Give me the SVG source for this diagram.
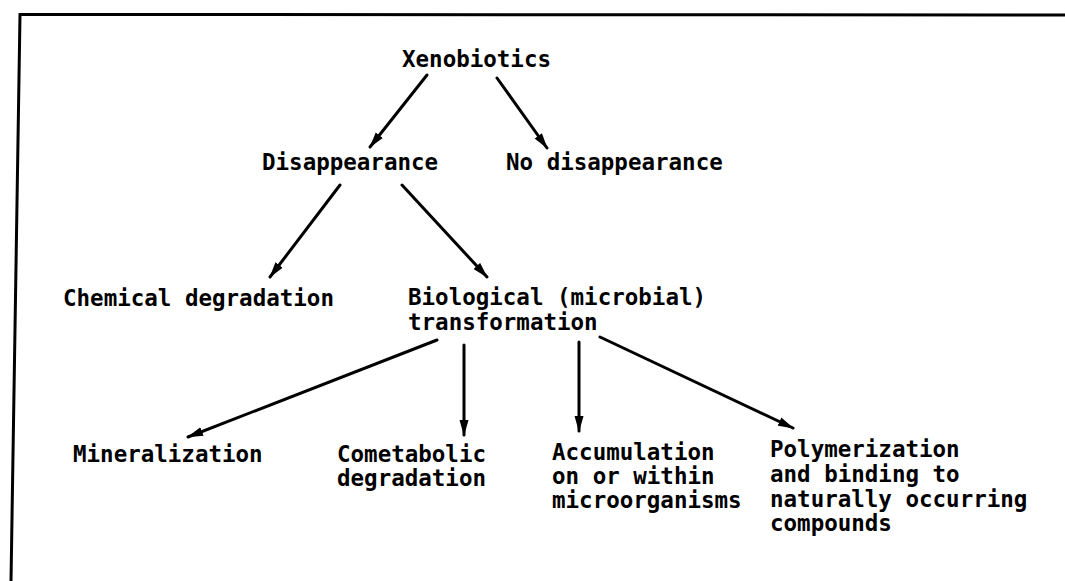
<svg xmlns="http://www.w3.org/2000/svg" width="1065" height="581" viewBox="0 0 1065 581">
  <style>
    .t { font-family: "DejaVu Sans Mono", "Liberation Mono", monospace; font-weight: bold; font-size: 22.5px; fill: #000; }
    .c { stroke: #000; stroke-width: 3; fill: none; stroke-linecap: round; }
    .frame { stroke: #000; stroke-width: 3; fill: none; }
  </style>
  <defs>
    <marker id="arrow" viewBox="0 0 16 10" refX="15" refY="5" markerWidth="16" markerHeight="10" markerUnits="userSpaceOnUse" orient="auto">
      <path d="M0,0.5 L16,5 L0,9.5 Z" fill="#000"/>
    </marker>
  </defs>
  <rect width="1065" height="581" fill="#fff"/>

  <!-- page frame: top rule and left rule -->
  <path class="frame" d="M1065,15 L20,14.5 L11,581"/>

  <g id="connectors">
    <line class="c" x1="427" y1="75" x2="370" y2="147" marker-end="url(#arrow)"/>
    <line class="c" x1="497" y1="78" x2="547" y2="148" marker-end="url(#arrow)"/>
    <line class="c" x1="340" y1="185" x2="270" y2="277" marker-end="url(#arrow)"/>
    <line class="c" x1="402" y1="185" x2="487" y2="277" marker-end="url(#arrow)"/>
    <line class="c" x1="437" y1="340" x2="188" y2="437" marker-end="url(#arrow)"/>
    <line class="c" x1="464" y1="345" x2="464" y2="435" marker-end="url(#arrow)"/>
    <line class="c" x1="579" y1="342" x2="579" y2="431" marker-end="url(#arrow)"/>
    <line class="c" x1="600" y1="337" x2="793" y2="428" marker-end="url(#arrow)"/>
  </g>

  <g id="xenobiotics"><text class="t" x="402" y="67">Xenobiotics</text></g>
  <g id="disappearance"><text class="t" x="262" y="170">Disappearance</text></g>
  <g id="no-disappearance"><text class="t" x="506" y="170">No disappearance</text></g>
  <g id="chemical-degradation"><text class="t" x="63" y="306">Chemical degradation</text></g>
  <g id="biological-transformation">
    <text class="t" x="408" y="305">Biological (microbial)</text>
    <text class="t" x="408" y="330">transformation</text>
  </g>
  <g id="mineralization"><text class="t" x="73" y="462">Mineralization</text></g>
  <g id="cometabolic-degradation">
    <text class="t" x="337" y="462">Cometabolic</text>
    <text class="t" x="337" y="486">degradation</text>
  </g>
  <g id="accumulation">
    <text class="t" x="552" y="460">Accumulation</text>
    <text class="t" x="552" y="484">on or within</text>
    <text class="t" x="552" y="508">microorganisms</text>
  </g>
  <g id="polymerization">
    <text class="t" x="770" y="457">Polymerization</text>
    <text class="t" x="770" y="482">and binding to</text>
    <text class="t" x="770" y="507">naturally occurring</text>
    <text class="t" x="770" y="531">compounds</text>
  </g>
</svg>
